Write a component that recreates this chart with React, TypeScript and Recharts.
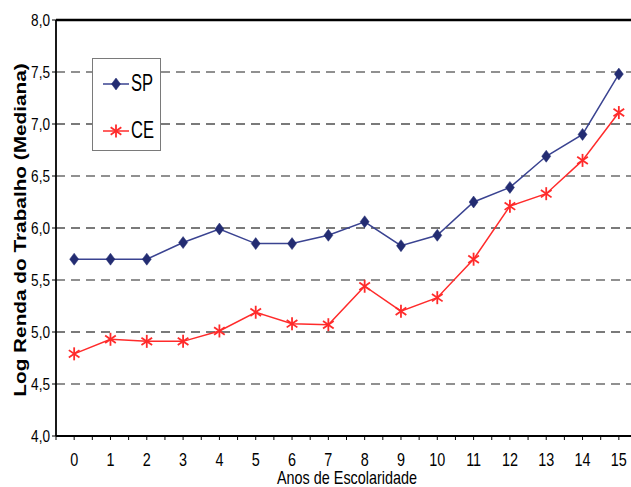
import React from 'react';
import { LineChart, Line, XAxis, YAxis, ReferenceLine, Legend } from 'recharts';

const years = [0, 1, 2, 3, 4, 5, 6, 7, 8, 9, 10, 11, 12, 13, 14, 15];
const spValues = [5.7, 5.7, 5.7, 5.86, 5.99, 5.85, 5.85, 5.93, 6.06, 5.83, 5.93, 6.25, 6.39, 6.69, 6.9, 7.48];
const ceValues = [4.79, 4.93, 4.91, 4.91, 5.01, 5.19, 5.08, 5.07, 5.44, 5.2, 5.33, 5.7, 6.21, 6.33, 6.65, 7.11];
const yTicks = [4.0, 4.5, 5.0, 5.5, 6.0, 6.5, 7.0, 7.5, 8.0];
const darkGrid = [4.5, 5.5, 6.5, 7.5];
const grayGrid = [5.0, 6.0, 7.0];

const data = years.map((y, i) => ({ year: y, SP: spValues[i], CE: ceValues[i] }));
const xTickMarks = [-0.5, ...years.flatMap((y) => [y, y + 0.5])];

const FONT = "'Liberation Sans', Arial, sans-serif";
const SP_COLOR = '#232c72';
const SP_LINE = '#3a4391';
const CE_COLOR = '#ff2b2b';

const NarrowText = ({ x, y, anchor, size, sx = 0.8, children }: any) => (
  <text
    transform={`translate(${x} ${y}) scale(${sx} 1)`}
    x={0}
    y={0}
    textAnchor={anchor}
    fontFamily={FONT}
    fontSize={size}
    fill="#000"
  >
    {children}
  </text>
);

const XTick = (props: any) => {
  const { x, y, payload } = props;
  const v = payload.value;
  if (!Number.isInteger(v)) return null;
  return (
    <NarrowText x={x} y={y + 24} anchor="middle" size={18}>
      {String(v)}
    </NarrowText>
  );
};

const YTick = (props: any) => {
  const { x, y, payload } = props;
  return (
    <NarrowText x={x} y={y + 6} anchor="end" size={17}>
      {payload.value.toFixed(1).replace('.', ',')}
    </NarrowText>
  );
};

const Diamond = (props: any) => {
  const { cx, cy } = props;
  if (cx == null || cy == null) return null;
  return (
    <polygon
      points={`${cx},${cy - 6} ${cx + 4.5},${cy} ${cx},${cy + 6} ${cx - 4.5},${cy}`}
      fill={SP_COLOR}
      stroke={SP_COLOR}
      strokeWidth={0.5}
    />
  );
};

const Asterisk = (props: any) => {
  const { cx, cy } = props;
  if (cx == null || cy == null) return null;
  const r = 6.5;
  const dx = r * 0.82;
  const dy = r * 0.57;
  return (
    <g stroke={CE_COLOR} strokeWidth={1.8}>
      <line x1={cx} y1={cy - r} x2={cx} y2={cy + r} />
      <line x1={cx - dx} y1={cy - dy} x2={cx + dx} y2={cy + dy} />
      <line x1={cx - dx} y1={cy + dy} x2={cx + dx} y2={cy - dy} />
    </g>
  );
};

const LegendBox = () => (
  <div
    style={{
      width: 67,
      height: 91,
      border: '1px solid #7a7a7a',
      background: '#fff',
      position: 'relative',
    }}
  >
    <svg width={67} height={91} style={{ position: 'absolute', left: 0, top: 0 }}>
      <line x1={10} y1={25} x2={36} y2={25} stroke={SP_LINE} strokeWidth={1.5} />
      <Diamond cx={23} cy={25} />
      <NarrowText x={38} y={32} anchor="start" size={23} sx={0.72}>SP</NarrowText>
      <line x1={10} y1={72} x2={36} y2={72} stroke={CE_COLOR} strokeWidth={1.5} />
      <Asterisk cx={23} cy={72} />
      <NarrowText x={38} y={79} anchor="start" size={23} sx={0.72}>CE</NarrowText>
    </svg>
  </div>
);

const YLabel = (props: any) => {
  const vb = props.viewBox || { y: 12, height: 416 };
  const cx = 12;
  const cy = vb.y + vb.height / 2 + 2;
  return (
    <text
      transform={`translate(${cx} ${cy}) rotate(-90) scale(1.26 1)`}
      x={0}
      y={0}
      textAnchor="middle"
      dominantBaseline="central"
      fontFamily={FONT}
      fontWeight="bold"
      fontSize={16.5}
      fill="#000"
    >
      Log Renda do Trabalho (Mediana)
    </text>
  );
};

const XLabel = (props: any) => {
  const vb = props.viewBox || { y: 428 };
  return (
    <NarrowText x={347 - 8} y={vb.y + 48} anchor="middle" size={18}>
      Anos de Escolaridade
    </NarrowText>
  );
};

export default function App() {
  return (
    <div
      style={{
        position: 'fixed',
        left: 8,
        top: 8,
        width: 623,
        height: 479,
        overflow: 'hidden',
        background: '#fff',
      }}
    >
      <LineChart width={640} height={479} data={data} margin={{ top: 12, right: 11, bottom: 0, left: 0 }}>
        {darkGrid.map((v) => (
          <ReferenceLine key={'d' + v} y={v} stroke="#222" strokeWidth={1.1} strokeDasharray="9 6" />
        ))}
        {grayGrid.map((v) => (
          <ReferenceLine key={'g' + v} y={v} stroke="#7a7a7a" strokeWidth={2} strokeDasharray="9 6" />
        ))}
        <ReferenceLine y={8} stroke="#000" strokeWidth={2.5} />
        <XAxis
          dataKey="year"
          type="number"
          domain={[-0.5, 15.5]}
          ticks={xTickMarks}
          interval={0}
          allowDataOverflow
          height={51}
          axisLine={{ stroke: '#000', strokeWidth: 1.8 }}
          tickLine={{ stroke: '#000', strokeWidth: 1 }}
          tickSize={4}
          tickMargin={2}
          tick={<XTick />}
          label={<XLabel />}
        />
        <YAxis
          type="number"
          domain={[4, 8]}
          ticks={yTicks}
          interval={0}
          width={48}
          axisLine={{ stroke: '#000', strokeWidth: 1.8 }}
          tickLine={{ stroke: '#000', strokeWidth: 1 }}
          tickSize={4}
          tickMargin={2}
          tick={<YTick />}
          label={<YLabel />}
        />
        <Legend
          content={<LegendBox />}
          layout="vertical"
          align="center"
          verticalAlign="middle"
          wrapperStyle={{ position: 'absolute', left: 84, top: 50, width: 69, height: 93 }}
        />
        <Line
          dataKey="SP"
          stroke={SP_LINE}
          strokeWidth={1.5}
          dot={<Diamond />}
          activeDot={false}
          isAnimationActive={false}
        />
        <Line
          dataKey="CE"
          stroke={CE_COLOR}
          strokeWidth={1.5}
          dot={<Asterisk />}
          activeDot={false}
          isAnimationActive={false}
        />
      </LineChart>
    </div>
  );
}
